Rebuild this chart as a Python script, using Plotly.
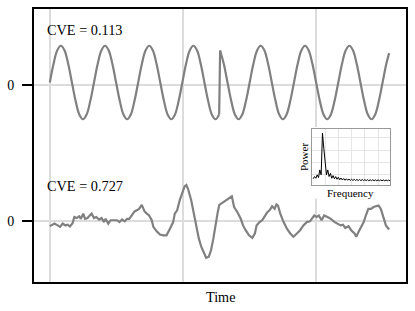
import plotly.graph_objects as go

# ---------------- data ----------------
# top signal (sinusoid with a phase jump), before the jump
top_pre_t = [0, 2.77, 5.53, 8.30, 11.07, 13.83, 16.60, 19.37, 22.13, 24.90, 27.67, 30.43,
             33.20, 35.97, 38.73, 41.50, 44.27, 47.03, 49.80, 52.57, 55.33, 58.10, 60.87, 63.63,
             66.40, 69.17, 71.93, 74.70, 77.47, 80.23, 83.00, 85.77, 88.53, 91.30, 94.07, 96.83,
             99.60, 102.37, 105.13, 107.90, 110.67, 113.43, 116.20, 118.97, 121.73, 124.50, 127.27]
top_pre_v = [0, 0.5, 0.87, 1, 0.87, 0.5, 0, -0.5, -0.87, -1, -0.87, -0.5,
             0, 0.5, 0.87, 1, 0.87, 0.5, 0, -0.5, -0.87, -1, -0.87, -0.5,
             0, 0.5, 0.87, 1, 0.87, 0.5, 0, -0.5, -0.87, -1, -0.87, -0.5,
             0, 0.5, 0.87, 1, 0.87, 0.5, 0, -0.5, -0.87, -1, -0.87]
# top signal after the jump
top_post_t = [128.00, 130.78, 133.55, 136.33, 139.10, 141.88, 144.65, 147.43, 150.20, 152.98,
              155.75, 158.53, 161.30, 164.08, 166.85, 169.63, 172.40, 175.18, 177.95, 180.73,
              183.50, 186.28, 189.05, 191.83, 194.60, 197.38, 200.15, 202.93, 205.70, 208.48,
              211.25, 214.03, 216.80, 219.58, 222.35, 225.13, 227.90, 230.68, 233.45, 236.23,
              239.00, 241.78, 244.55, 247.33, 250.10, 252.88, 255.00]
top_post_v = [0.87, 0.5, 0, -0.5, -0.87, -1, -0.87, -0.5, 0, 0.5,
              0.87, 1, 0.87, 0.5, 0, -0.5, -0.87, -1, -0.87, -0.5,
              0, 0.5, 0.87, 1, 0.87, 0.5, 0, -0.5, -0.87, -1,
              -0.87, -0.5, 0, 0.5, 0.87, 1, 0.87, 0.5, 0, -0.5,
              -0.87, -1, -0.87, -0.5, 0, 0.5, 0.80]

# bottom signal (noisy)
bot_t = [0, 3.5, 5.9, 7.7, 9.7, 11.7, 13.4, 15.1, 17.1, 18.4, 20.1, 22.1, 23.3, 25.1, 26.5,
         28.3, 29.5, 31.4, 33.2, 34.9, 37.0, 38.9, 40.7, 41.9, 43.9, 45.6, 48.1, 50.6, 52.3,
         54.3, 56.3, 58.0, 59.7, 61.7, 63.7, 65.4, 67.1, 69.1, 71.2, 72.9, 74.6, 76.6, 77.8,
         80.3, 82.8, 85.3, 87.7, 89.7, 91.4, 92.7, 93.9, 95.7, 97.6, 99.6, 101.3, 102.6, 103.9,
         106.3, 108.0, 110.0, 112.0, 113.8, 115.8, 117.5, 119.5, 121.2, 122.9, 124.4, 126.2,
         127.4, 129.9, 132.3, 134.8, 136.8, 138.5, 141.0, 143.5, 145.2, 147.2, 149.7, 152.2,
         154.1, 155.4, 157.6, 159.6, 161.6, 163.3, 165.1, 167.1, 169.0, 170.3, 171.5, 173.2,
         175.7, 178.2, 180.7, 183.1, 185.7, 188.1, 190.6, 193.1, 195.5, 197.3, 198.7, 200.5,
         202.2, 204.2, 206.2, 208.7, 211.2, 214.1, 216.6, 218.6, 220.3, 222.1, 224.5, 226.5,
         229.0, 230.3, 232.0, 234.0, 235.9, 237.7, 239.4, 241.4, 243.3, 245.1, 247.1, 248.8,
         250.8, 252.6, 255.0]
bot_v = [-0.13, -0.06, -0.11, -0.15, -0.06, -0.11, -0.09, -0.14, -0.05, 0.12, 0.09, 0.14, 0.07,
         0.21, 0.07, 0.09, 0.14, 0.21, 0.09, 0.12, 0.05, 0.09, -0.02, 0.07, -0.06, 0.03, 0.03,
         0.03, -0.02, 0.05, 0.0, 0.07, 0.07, 0.16, 0.27, 0.30, 0.34, 0.45, 0.27, 0.21, 0.16,
         0.03, -0.15, -0.27, -0.36, -0.38, -0.38, -0.24, -0.11, -0.02, 0.21, 0.30, 0.57, 0.79,
         0.95, 0.99, 0.88, 0.57, 0.25, -0.15, -0.47, -0.69, -0.87, -0.99, -0.96, -0.78, -0.47,
         -0.11, 0.25, 0.45, 0.51, 0.57, 0.61, 0.68, 0.39, 0.25, 0.07, -0.11, -0.24, -0.38,
         -0.45, -0.33, -0.11, -0.02, 0.03, 0.16, 0.24, 0.30, 0.41, 0.34, 0.46, 0.43, 0.21,
         -0.02, -0.20, -0.33, -0.42, -0.33, -0.24, -0.11, -0.02, 0.0, 0.09, 0.16, 0.12, 0.16,
         0.03, 0.16, 0.12, 0.07, -0.02, -0.06, -0.11, -0.09, -0.18, -0.13, -0.24, -0.33, -0.42,
         -0.29, -0.15, -0.02, 0.18, 0.34, 0.34, 0.39, 0.41, 0.43, 0.34, 0.12, -0.11, -0.22]

# inset power spectrum
freq = list(range(1, 60))
power = [0.17, 0.215, 0.18, 0.25, 0.195, 0.35, 0.25, 1.095, 0.79, 0.45,
         0.25, 0.35, 0.215, 0.28, 0.18, 0.235, 0.17, 0.215, 0.16, 0.20,
         0.15, 0.185, 0.145, 0.175, 0.14, 0.17, 0.14, 0.165, 0.135, 0.16,
         0.135, 0.158, 0.135, 0.156, 0.133, 0.155, 0.133, 0.153, 0.132, 0.152,
         0.132, 0.151, 0.131, 0.150, 0.131, 0.149, 0.130, 0.148, 0.130, 0.147,
         0.130, 0.146, 0.130, 0.145, 0.129, 0.145, 0.129, 0.144, 0.129]

cve_labels = ["CVE = 0.113", "CVE = 0.727"]
y_tick_text = ["0", "0"]
x_grid = [0, 100, 200]

# ---------------- layout constants ----------------
TOP_ZERO = 3.72     # where the upper "0" tick sits
TOP_SHIFT = 3.78    # vertical placement of the upper trace
LINE_GRAY = "#808080"
FONT = "Liberation Serif"

fig = go.Figure()

fig.add_trace(go.Scatter(x=top_pre_t, y=[v + TOP_SHIFT for v in top_pre_v], mode="lines",
                         line=dict(color=LINE_GRAY, width=2.2, shape="spline"), hoverinfo="skip"))
fig.add_trace(go.Scatter(x=[top_pre_t[-1], top_post_t[0]],
                         y=[top_pre_v[-1] + TOP_SHIFT, top_post_v[0] + TOP_SHIFT], mode="lines",
                         line=dict(color=LINE_GRAY, width=2.2), hoverinfo="skip"))
fig.add_trace(go.Scatter(x=top_post_t, y=[v + TOP_SHIFT for v in top_post_v], mode="lines",
                         line=dict(color=LINE_GRAY, width=2.2, shape="spline"), hoverinfo="skip"))
fig.add_trace(go.Scatter(x=bot_t, y=bot_v, mode="lines",
                         line=dict(color=LINE_GRAY, width=2.2), hoverinfo="skip"))

fig.add_trace(go.Scatter(x=freq, y=power, mode="lines", xaxis="x2", yaxis="y2",
                         line=dict(color="black", width=1), hoverinfo="skip"))

fig.update_layout(
    width=415, height=311,
    margin=dict(l=31, r=8, t=7, b=29),
    paper_bgcolor="white", plot_bgcolor="white",
    showlegend=False,
    font=dict(family=FONT, size=14, color="black"),
    xaxis=dict(range=[-11.9, 267.7], tickvals=x_grid, showticklabels=False, ticks="",
               showgrid=True, gridcolor="#dcdcdc", gridwidth=1.5, zeroline=False,
               showline=True, linecolor="black", linewidth=2, mirror=True),
    yaxis=dict(range=[-1.65, 5.78], tickvals=[0, TOP_ZERO], ticktext=y_tick_text,
               ticks="outside", ticklen=10, tickwidth=2, tickcolor="black",
               ticklabelstandoff=5,
               tickfont=dict(family=FONT, size=14),
               showgrid=True, gridcolor="#dcdcdc", gridwidth=1.5, zeroline=False,
               showline=True, linecolor="black", linewidth=2, mirror=True),
    xaxis2=dict(domain=[0.747, 0.957], anchor="y2", range=[0, 59], tick0=0, dtick=10,
                showticklabels=False, ticks="", showgrid=True, gridcolor="#e6e6e6",
                gridwidth=0.8, zeroline=False, showline=True, linecolor="#999999",
                linewidth=1, mirror=True),
    yaxis2=dict(domain=[0.356, 0.56], anchor="x2", range=[0.047, 1.18], tick0=0, dtick=0.25,
                showticklabels=False, ticks="", showgrid=True, gridcolor="#e6e6e6",
                gridwidth=0.8, zeroline=False, showline=True, linecolor="#999999",
                linewidth=1, mirror=True),
)

# white backing behind the inset (covers main grid lines)
fig.add_shape(type="rect", xref="x", yref="y", x0=185, x1=259, y0=0.62, y1=2.57,
              fillcolor="white", line=dict(width=0), layer="between")

fig.add_annotation(x=-3.3, y=5.22, xref="x", yref="y", text=cve_labels[0], showarrow=False,
                   xanchor="left", yanchor="middle", font=dict(size=14.3))
fig.add_annotation(x=-3.3, y=0.97, xref="x", yref="y", text=cve_labels[1], showarrow=False,
                   xanchor="left", yanchor="middle", font=dict(size=14.3))
fig.add_annotation(x=0.5, y=-0.0545, xref="paper", yref="paper", text="Time", showarrow=False,
                   xanchor="center", yanchor="middle", font=dict(size=14.2))
fig.add_annotation(x=0.851, y=0.326, xref="paper", yref="paper", text="Frequency",
                   showarrow=False, xanchor="center", yanchor="middle", font=dict(size=11))
fig.add_annotation(x=0.726, y=0.458, xref="paper", yref="paper", text="Power", textangle=-90,
                   showarrow=False, xanchor="center", yanchor="middle", font=dict(size=11))

fig.write_html("out.html", config={"displayModeBar": False},
               post_script="document.body.style.margin='0';document.body.style.overflow='hidden';")
